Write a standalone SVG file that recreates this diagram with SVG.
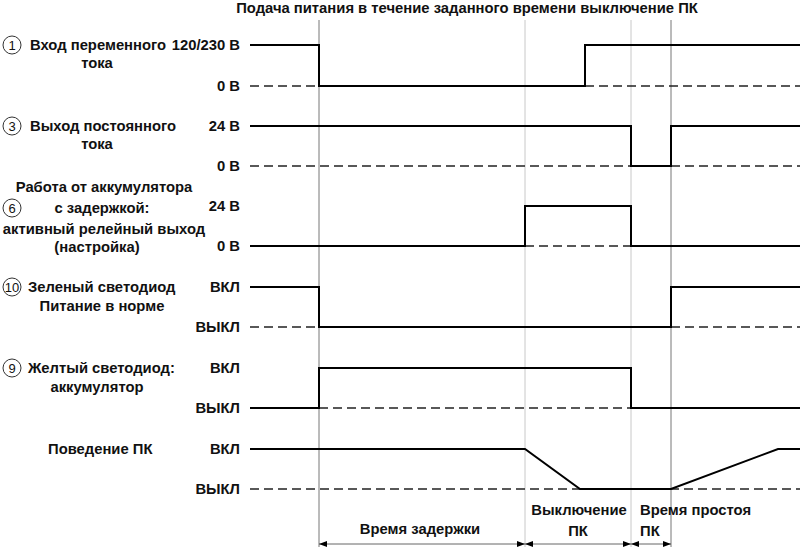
<svg xmlns="http://www.w3.org/2000/svg" width="800" height="547" viewBox="0 0 800 547">
<style>
text{font-family:"Liberation Sans",Arial,sans-serif;font-weight:bold;font-size:14.8px;fill:#111}
.r{text-anchor:end}
.m{text-anchor:middle}
.num{font-weight:normal;font-size:13px;text-anchor:middle}
.circ{fill:none;stroke:#333;stroke-width:1}
.w{fill:none;stroke:#000;stroke-width:2}
.d{fill:none;stroke:#222;stroke-width:1.3;stroke-dasharray:9 5}
.vd{stroke:#777;stroke-width:1}
.vl{stroke:#c8c8c8;stroke-width:1}
.a{stroke:#666;stroke-width:1;fill:none}
</style>
<defs>
<marker id="ah" viewBox="0 0 8 6" refX="8" refY="3" markerWidth="8" markerHeight="6" orient="auto-start-reverse" markerUnits="userSpaceOnUse">
<path d="M0,0 L8,3 L0,6 z" fill="#000"/>
</marker>
</defs>
<rect width="800" height="547" fill="#fff"/>
<text x="467" y="13" class="m">Подача питания в течение заданного времени выключение ПК</text>
<g id="gridlines">
<line x1="319" y1="20" x2="319" y2="547" class="vd"/>
<line x1="525" y1="20" x2="525" y2="547" class="vl"/>
<line x1="631" y1="20" x2="631" y2="547" class="vl"/>
<line x1="671" y1="20" x2="671" y2="547" class="vd"/>
</g>
<g id="row1">
<circle cx="12" cy="45" r="9" class="circ"/><text x="12" y="50" class="num">1</text>
<text x="30" y="50">Вход переменного</text>
<text x="97" y="68" class="m">тока</text>
<text x="240" y="50" class="r">120/230 В</text>
<text x="240" y="91" class="r">0 В</text>
<path d="M250,86 H319 M585,86 H800" class="d"/>
<path d="M250,45 H319 V86 H585 V45 H800" class="w"/>
</g>
<g id="row3">
<circle cx="12" cy="126" r="9" class="circ"/><text x="12" y="131" class="num">3</text>
<text x="30" y="131">Выход постоянного</text>
<text x="97" y="149" class="m">тока</text>
<text x="240" y="131" class="r">24 В</text>
<text x="240" y="171" class="r">0 В</text>
<path d="M250,166 H631 M671,166 H800" class="d"/>
<path d="M250,126 H631 V166 H671 V126 H800" class="w"/>
</g>
<g id="row6">
<circle cx="12" cy="208" r="9" class="circ"/><text x="12" y="213" class="num">6</text>
<text x="104" y="192" class="m">Работа от аккумулятора</text>
<text x="102" y="213" class="m">с задержкой:</text>
<text x="104" y="234" class="m">активный релейный выход</text>
<text x="97" y="252" class="m">(настройка)</text>
<text x="240" y="211" class="r">24 В</text>
<text x="240" y="251" class="r">0 В</text>
<path d="M525,246 H631" class="d"/>
<path d="M250,246 H525 V206 H631 V246 H800" class="w"/>
</g>
<g id="row10">
<circle cx="12" cy="287" r="9" class="circ"/><text x="12" y="292" class="num">10</text>
<text x="28" y="292">Зеленый светодиод</text>
<text x="102" y="311" class="m">Питание в норме</text>
<text x="240" y="292" class="r">ВКЛ</text>
<text x="240" y="332" class="r">ВЫКЛ</text>
<path d="M250,327 H319 M671,327 H800" class="d"/>
<path d="M250,287 H319 V327 H671 V287 H800" class="w"/>
</g>
<g id="row9">
<circle cx="12" cy="368" r="9" class="circ"/><text x="12" y="373" class="num">9</text>
<text x="28" y="373">Желтый светодиод:</text>
<text x="97" y="392" class="m">аккумулятор</text>
<text x="240" y="373" class="r">ВКЛ</text>
<text x="240" y="413" class="r">ВЫКЛ</text>
<path d="M319,408 H631" class="d"/>
<path d="M250,408 H319 V368 H631 V408 H800" class="w"/>
</g>
<g id="rowpc">
<text x="48" y="454">Поведение ПК</text>
<text x="240" y="454" class="r">ВКЛ</text>
<text x="240" y="494" class="r">ВЫКЛ</text>
<path d="M250,489 H800" class="d"/>
<path d="M250,449 H525 L580,489 H671 L778,449 H800" class="w"/>
</g>
<g id="connectors">
<line x1="319" y1="544" x2="525" y2="544" class="a" marker-start="url(#ah)" marker-end="url(#ah)"/>
<line x1="525" y1="544" x2="631" y2="544" class="a" marker-start="url(#ah)" marker-end="url(#ah)"/>
<line x1="631" y1="544" x2="671" y2="544" class="a" marker-start="url(#ah)" marker-end="url(#ah)"/>
</g>
<g id="durations">
<text x="420" y="534" class="m">Время задержки</text>
<text x="579" y="515" class="m">Выключение</text>
<text x="578" y="536" class="m">ПК</text>
<text x="640" y="515">Время простоя</text>
<text x="640" y="536">ПК</text>
</g>
</svg>
